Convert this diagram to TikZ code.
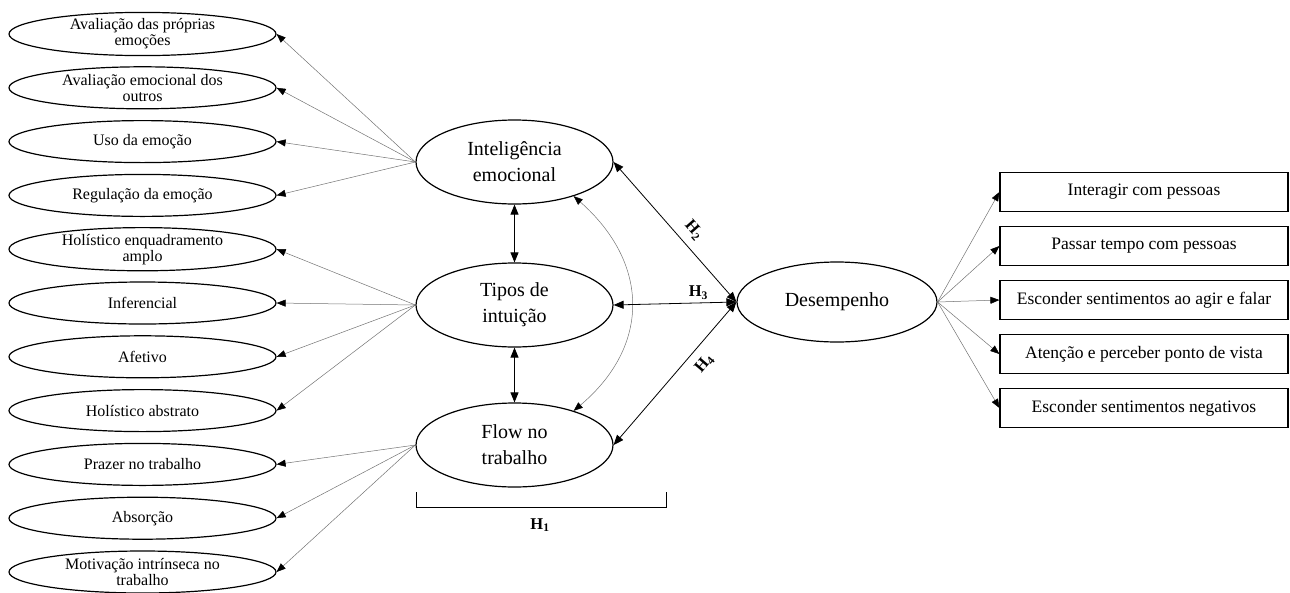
\documentclass[tikz,border=0pt]{standalone}
\usepackage{fontspec}
\setmainfont{Liberation Serif}
\usetikzlibrary{shapes.geometric,arrows.meta}
\begin{document}
\begin{tikzpicture}[x=1pt,y=-1pt,
  small/.style={ellipse,draw,line width=1.2pt,minimum width=267pt,minimum height=42pt,inner sep=0pt,align=center,font=\fontsize{16}{16}\selectfont},
  big/.style={ellipse,draw,line width=1.2pt,minimum width=197pt,minimum height=84pt,inner sep=0pt,align=center,font=\fontsize{20}{26}\selectfont},
  perf/.style={ellipse,draw,line width=1.2pt,minimum width=200pt,minimum height=80pt,inner sep=0pt,align=center,font=\fontsize{20}{26}\selectfont},
  itembox/.style={rectangle,draw,line width=1.2pt,minimum width=288pt,minimum height=39pt,inner sep=0pt,font=\fontsize{17.5}{20}\selectfont},
  thinarrow/.style={draw=black!55,line width=0.5pt,-{Triangle[length=9pt,width=7pt,color=black]}},
  mainarrow/.style={draw=black,line width=0.8pt,{Triangle[length=10pt,width=8pt]}-{Triangle[length=10pt,width=8pt]}},
  curvearrow/.style={draw=black!55,line width=0.5pt,{Triangle[length=9pt,width=7pt,color=black]}-{Triangle[length=9pt,width=7pt,color=black]}},
  hlab/.style={font=\fontsize{16.5}{16.5}\selectfont\bfseries,inner sep=2pt}]
\useasboundingbox (0,0) rectangle (1290,592);

% left indicator ellipses
\node[small] (a1) at (142.5,34) {Avaliação  das próprias\\emoções};
\node[small] (a2) at (142.5,87.8) {Avaliação emocional dos\\outros};
\node[small] (a3) at (142.5,141.6) {Uso da emoção};
\node[small] (a4) at (142.5,195.4) {Regulação da emoção};
\node[small] (b1) at (142.5,249.2) {Holístico enquadramento\\amplo};
\node[small] (b2) at (142.5,303) {Inferencial};
\node[small] (b3) at (142.5,356.8) {Afetivo};
\node[small] (b4) at (142.5,410.6) {Holístico abstrato};
\node[small] (c1) at (142.5,464.4) {Prazer no trabalho};
\node[small] (c2) at (142.5,518.2) {Absorção};
\node[small] (c3) at (142.5,572) {Motivação intrínseca no\\trabalho};

% central constructs
\node[big] (ie) at (514.5,162) {Inteligência\\emocional};
\node[big] (ti) at (514.5,305) {Tipos de\\intuição};
\node[big] (fl) at (514.5,445) {Flow no\\trabalho};
\node[perf] (de) at (837,302) {Desempenho};

% right boxes
\node[itembox] (d1) at (1144,192) {Interagir com pessoas};
\node[itembox] (d2) at (1144,246) {Passar tempo com pessoas};
\node[itembox] (d3) at (1144,300) {Esconder sentimentos ao agir e falar};
\node[itembox] (d4) at (1144,354) {Atenção e perceber ponto de vista};
\node[itembox] (d5) at (1144,408) {Esconder sentimentos negativos};

% indicator arrows
\foreach \t in {a1,a2,a3,a4} \draw[thinarrow] (ie.west) -- (\t.east);
\foreach \t in {b1,b2,b3,b4} \draw[thinarrow] (ti.west) -- (\t.east);
\foreach \t in {c1,c2,c3} \draw[thinarrow] (fl.west) -- (\t.east);
\foreach \t in {d1,d2,d3,d4,d5} \draw[thinarrow] (de.east) -- (\t.west);

% correlations between constructs
\draw[mainarrow] (ie.south) -- (ti.north);
\draw[mainarrow] (ti.south) -- (fl.north);
\draw[curvearrow] (ie.-30) .. controls +(76,67) and +(77,-65) .. (fl.30);

% hypotheses
\draw[mainarrow] (de.west) -- node[hlab,sloped,above=6pt,pos=0.44] {H\textsubscript{2}} (ie.east);
\draw[mainarrow] (de.west) -- node[hlab,above=1pt,pos=0.31] {H\textsubscript{3}} (ti.east);
\draw[mainarrow] (de.west) -- node[hlab,sloped,below=7pt,pos=0.36] {H\textsubscript{4}} (fl.east);

% bracket H1
\coordinate (k1) at (416,492);
\coordinate (k2) at (416,507);
\coordinate (k3) at (666,507);
\coordinate (k4) at (666,492);
\draw[line width=0.8pt] (k1) -- (k2) -- (k3) -- (k4);
\node[hlab] (h1) at (540,525) {H\textsubscript{1}};
\end{tikzpicture}
\end{document}
